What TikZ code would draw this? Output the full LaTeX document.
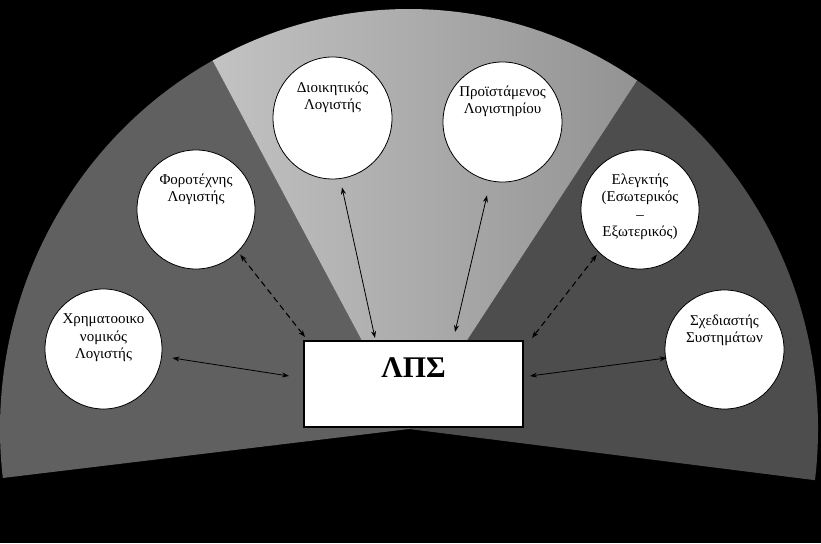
\documentclass[tikz,border=0pt]{standalone}
\usepackage{fontspec}
\setmainfont{Liberation Serif}
\usetikzlibrary{shapes.geometric,arrows.meta}
\definecolor{leftgray}{HTML}{606060}
\definecolor{rightgray}{HTML}{4D4D4D}
\definecolor{midlight}{HTML}{C2C2C2}
\definecolor{middark}{HTML}{939393}
\begin{document}
\begin{tikzpicture}[x=1pt,y=1pt,
  bubble/.style={ellipse,draw=black,line width=0.8pt,fill=white,inner sep=0pt},
  lbl/.style={anchor=north,align=center,inner sep=0pt,font=\fontsize{15}{17.5}\selectfont},
  link/.style={line width=0.8pt,{Stealth[length=7pt,width=5pt]}-{Stealth[length=7pt,width=5pt]}},
  dlink/.style={link,line width=1.1pt,dash pattern=on 6pt off 4pt}]
\fill[black] (0,0) rectangle (821,543);
\useasboundingbox (0,0) rectangle (821,543);
\coordinate (C) at (409,114);
% side and middle sectors
\fill[leftgray] (C) -- ++(186.7:409pt and 420pt)
  arc[start angle=186.7,end angle=118.7,x radius=409pt,y radius=420pt] -- cycle;
\fill[rightgray] (C) -- ++(56.1:409pt and 420pt)
  arc[start angle=56.1,end angle=-7,x radius=409pt,y radius=420pt] -- cycle;
\shade[left color=midlight,right color=middark] (C) -- ++(118.7:409pt and 420pt)
  arc[start angle=118.7,end angle=56.1,x radius=409pt,y radius=420pt] -- cycle;
% bubbles
\node[bubble,minimum width=119pt,minimum height=122pt] (e1) at (332.5,425) {};
\node[bubble,minimum width=119pt,minimum height=120pt] (e2) at (502.5,421) {};
\node[bubble,minimum width=118pt,minimum height=119pt] (e3) at (196,333.5) {};
\node[bubble,minimum width=118pt,minimum height=119pt] (e4) at (640,333.5) {};
\node[bubble,minimum width=117pt,minimum height=120pt] (e5) at (103.5,194) {};
\node[bubble,minimum width=119pt,minimum height=119pt] (e6) at (724.5,193.5) {};
\node[lbl] (t1) at ([yshift=-25pt]e1.north) {Διοικητικός\\Λογιστής};
\node[lbl] (t2) at ([yshift=-24pt]e2.north) {Προϊστάμενος\\Λογιστηρίου};
\node[lbl] (t3) at ([yshift=-24pt]e3.north) {Φοροτέχνης\\Λογιστής};
\node[lbl] (t4) at ([yshift=-24pt]e4.north) {Ελεγκτής\\(Εσωτερικός\\–\\Εξωτερικός)};
\node[lbl] (t5) at ([yshift=-25pt]e5.north) {Χρηματοοικο\\νομικός\\Λογιστής};
\node[lbl] (t6) at ([yshift=-25pt]e6.north) {Σχεδιαστής\\Συστημάτων};
% central box
\node[draw=black,line width=2pt,fill=white,minimum width=219pt,minimum height=86pt,inner sep=0pt] (box) at (413.5,159) {};
\node[anchor=base,inner sep=0pt,font=\fontsize{30}{30}\selectfont\bfseries] (lps) at (413.5,165) {ΛΠΣ};
% connectors
\draw[link] ([xshift=9.5pt,yshift=-8pt]e1.south) -- ([xshift=-38.5pt,yshift=2pt]box.north);
\draw[link] ([xshift=-15.5pt,yshift=-13pt]e2.south) -- ([xshift=41.5pt,yshift=8pt]box.north);
\draw[dlink] ([xshift=2pt,yshift=-3pt]e3.-45) -- ([xshift=2pt,yshift=3pt]box.north west);
\draw[dlink] ([xshift=-1pt,yshift=-3pt]e4.-135) -- ([xshift=8pt,yshift=2pt]box.north east);
\draw[link] ([xshift=10pt,yshift=-9pt]e5.east) -- ([xshift=-14pt,yshift=8pt]box.west);
\draw[link] ([xshift=2pt,yshift=-8.5pt]e6.west) -- ([xshift=6pt,yshift=8pt]box.east);
\end{tikzpicture}
\end{document}
